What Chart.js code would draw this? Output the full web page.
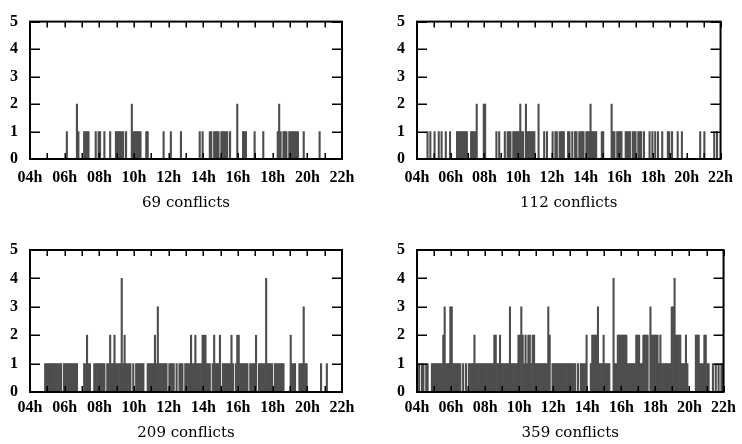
<!DOCTYPE html>
<html><head><meta charset="utf-8">
<script src="https://cdn.jsdelivr.net/npm/chart.js@4.4.1/dist/chart.umd.min.js"></script>
<style>
html,body{margin:0;padding:0;background:#fff;}
#wrap{position:relative;width:742px;height:444px;overflow:hidden;background:#fff;}
canvas{position:absolute;}
</style></head><body>
<div id="wrap">
<canvas id="c0" width="371" height="222" style="left:0;top:0"></canvas>
<canvas id="c1" width="371" height="222" style="left:371px;top:0"></canvas>
<canvas id="c2" width="371" height="222" style="left:0;top:222px"></canvas>
<canvas id="c3" width="371" height="222" style="left:371px;top:222px"></canvas>
</div>
<script>
// ---- data ----
const firstHour = 4;          // histogram starts at 04h
const lastHour = 22;          // and ends at 22h
const binsPerHour = 12;       // 5-minute bins
const xTickValues = [4, 6, 8, 10, 12, 14, 16, 18, 20, 22];
const xTickLabels = ['04h', '06h', '08h', '10h', '12h', '14h', '16h', '18h', '20h', '22h'];
const hourMarks = [4,5,6,7,8,9,10,11,12,13,14,15,16,17,18,19,20,21,22];
const yTickValues = [0, 1, 2, 3, 4, 5];
const yTickLabels = ['0', '1', '2', '3', '4', '5'];
const panelTitles = ['69 conflicts', '112 conflicts', '209 conflicts', '359 conflicts'];

const conflicts69 = [
  0,0,0,0,0,0,0,0,0,0,0,0,0,0,0,0,0,0,0,0,0,0,0,0,
  0,1,0,0,0,0,0,0,2,1,0,0,0,1,1,1,1,0,0,0,0,1,0,1,
  1,0,0,1,0,0,0,1,0,0,0,1,1,1,1,1,1,0,1,0,0,0,2,1,
  1,1,1,1,1,0,0,0,1,1,0,0,0,0,0,0,0,0,0,0,1,0,0,0,
  0,1,0,0,0,0,0,0,1,0,0,0,0,0,0,0,0,0,0,0,0,1,0,1,
  0,0,0,0,1,1,0,1,1,1,1,0,1,1,1,1,1,0,1,0,0,0,0,2,
  0,0,0,1,1,1,0,0,0,0,0,1,0,0,0,0,0,1,0,0,0,0,0,0,
  0,0,0,1,2,1,0,1,1,1,0,1,1,1,1,1,1,1,0,0,0,1,0,0,
  0,0,0,0,0,0,0,0,1,0,0,0,0,0,0,0,0,0,0,0,0,0,0,0
];
const conflicts112 = [
  0,0,0,0,0,0,0,1,0,1,0,0,1,0,0,1,0,1,0,0,1,0,0,1,
  0,0,0,0,1,1,1,1,1,1,1,1,0,0,1,1,1,1,2,0,0,0,0,2,
  2,0,0,0,0,0,0,0,1,0,1,0,0,0,1,0,1,1,1,0,1,1,1,1,
  1,2,1,1,0,2,1,1,1,1,1,1,0,0,2,0,0,0,1,0,1,0,0,0,
  1,0,1,1,0,1,1,1,1,0,0,1,1,0,1,0,1,1,0,1,1,1,1,0,
  1,1,1,2,1,1,1,1,0,0,0,1,1,0,0,0,0,0,2,1,1,0,1,1,
  1,1,0,0,1,1,1,1,0,1,1,1,0,1,1,1,0,1,0,0,0,1,0,1,
  0,1,0,1,0,0,1,0,0,0,1,1,0,1,0,0,0,1,0,0,1,0,0,0,
  0,0,0,0,0,0,0,0,0,1,0,0,1,0,0,0,0,0,0,1,0,1,0,0
];
const conflicts209 = [
  0,0,0,0,0,0,0,0,0,0,1,1,1,1,1,1,1,1,1,1,1,1,0,1,
  1,1,1,1,1,1,1,1,1,0,0,0,0,1,1,2,1,1,0,0,1,1,1,1,
  1,1,1,1,0,1,1,2,1,1,2,1,1,1,1,4,1,2,1,1,1,1,0,1,
  0,1,1,1,1,1,1,0,0,1,1,1,1,1,2,1,3,1,1,1,1,1,1,0,
  1,1,1,1,0,1,0,1,1,1,0,1,1,1,1,2,1,1,2,1,1,1,1,2,
  2,2,1,1,1,0,1,2,1,1,1,2,0,1,1,1,1,1,1,2,1,0,1,2,
  2,1,1,1,1,1,1,0,1,1,1,1,2,0,1,1,1,1,1,4,1,1,1,1,
  0,1,1,1,1,1,1,1,0,0,0,0,2,1,1,1,0,0,1,1,1,3,1,1,
  0,0,0,0,0,0,0,0,0,1,0,0,0,1,0,0,0,0,0,0,0,0,0,0
];
const conflicts359 = [
  0,1,0,1,1,0,1,1,0,0,1,1,1,1,1,1,1,1,2,3,1,1,1,3,
  3,1,1,1,1,1,1,0,1,0,1,0,1,1,1,1,2,1,1,1,1,1,1,1,
  1,1,1,1,1,1,2,2,1,1,2,1,1,1,1,1,1,3,1,1,1,1,1,2,
  2,3,2,1,2,1,2,2,1,2,2,1,1,1,1,1,1,1,1,1,3,2,0,1,
  1,1,1,1,1,1,1,1,1,1,1,1,1,1,1,1,0,1,0,1,1,1,1,2,
  0,0,1,2,2,2,2,3,1,1,1,2,1,1,1,1,0,0,4,1,1,2,2,2,
  2,2,2,2,1,1,1,1,1,1,2,2,2,1,1,2,2,2,2,0,3,2,2,2,
  2,2,1,2,1,1,1,1,1,1,1,3,3,4,2,2,2,2,1,1,1,2,1,0,
  0,0,0,0,2,2,2,1,1,1,2,2,1,1,0,0,1,0,1,0,1,0,1,1
];
const panelSeries = [conflicts69, conflicts112, conflicts209, conflicts359];

// ---- styling / layout ----
const TICK_FONT = {family: "'Liberation Serif', serif", size: 16, weight: 'bold'};
const TITLE_FONT = {family: "'DejaVu Serif', serif", size: 15, weight: 'normal', lineHeight: 1.2};
const BAR_COLOR = '#4d4d4d';
const panelLayout = [
  {yWidth: 30, right: 29, top: 17, xHeight: 63, xPad: 9, titleBottom: 10},
  {yWidth: 46, right: 13, top: 17, xHeight: 63, xPad: 9, titleBottom: 10},
  {yWidth: 30, right: 29, top: 28, xHeight: 52, xPad: 6, titleBottom: 2},
  {yWidth: 46, right: 13, top: 28, xHeight: 52, xPad: 6, titleBottom: 2}
];

const frameTicks = {
  id: 'frameTicks',
  afterDatasetsDraw(chart) {
    const {ctx, chartArea: {left, right, top, bottom}, scales: {x, y}} = chart;
    ctx.save();
    ctx.strokeStyle = '#000';
    ctx.lineWidth = 1.5;
    ctx.beginPath();
    hourMarks.forEach(h => {
      const px = Math.round(x.getPixelForValue(h)) + 0.25;
      ctx.moveTo(px, bottom); ctx.lineTo(px, bottom - 6);
      ctx.moveTo(px, top); ctx.lineTo(px, top + 6);
    });
    yTickValues.forEach(v => {
      const py = Math.round(y.getPixelForValue(v)) + 0.25;
      ctx.moveTo(left, py); ctx.lineTo(left + 10, py);
      ctx.moveTo(right, py); ctx.lineTo(right - 10, py);
    });
    ctx.stroke();
    ctx.lineWidth = 2;
    ctx.strokeRect(left, top, right - left, bottom - top);
    ctx.restore();
  }
};

panelSeries.forEach((series, i) => {
  const L = panelLayout[i];
  const points = series.map((v, k) => ({x: firstHour + (k + 0.5) / binsPerHour, y: v}));
  new Chart(document.getElementById('c' + i), {
    type: 'bar',
    data: {
      datasets: [{
        data: points,
        backgroundColor: BAR_COLOR,
        borderWidth: 0,
        barPercentage: 1,
        categoryPercentage: 1
      }]
    },
    options: {
      responsive: false,
      animation: false,
      devicePixelRatio: 1,
      layout: {padding: {left: 0, right: L.right, top: L.top, bottom: 0}},
      plugins: {legend: {display: false}, tooltip: {enabled: false}},
      scales: {
        x: {
          type: 'linear',
          min: firstHour, max: lastHour,
          offset: false,
          grid: {display: false, drawTicks: false},
          border: {display: false},
          afterBuildTicks: s => { s.ticks = xTickValues.map(v => ({value: v})); },
          afterFit: s => { s.height = L.xHeight; },
          ticks: {
            autoSkip: false, maxRotation: 0, padding: L.xPad, color: '#000', font: TICK_FONT,
            callback: (v) => xTickLabels[xTickValues.indexOf(v)]
          },
          title: {display: true, text: panelTitles[i], color: '#000', font: TITLE_FONT,
                  padding: {top: 0, bottom: L.titleBottom}}
        },
        y: {
          min: 0, max: 5,
          grid: {display: false, drawTicks: false},
          border: {display: false},
          afterBuildTicks: s => { s.ticks = yTickValues.map(v => ({value: v})); },
          afterFit: s => { s.width = L.yWidth; },
          ticks: {
            padding: 12, color: '#000', font: TICK_FONT,
            callback: (v) => yTickLabels[yTickValues.indexOf(v)]
          }
        }
      }
    },
    plugins: [frameTicks]
  });
});
</script>
</body></html>
